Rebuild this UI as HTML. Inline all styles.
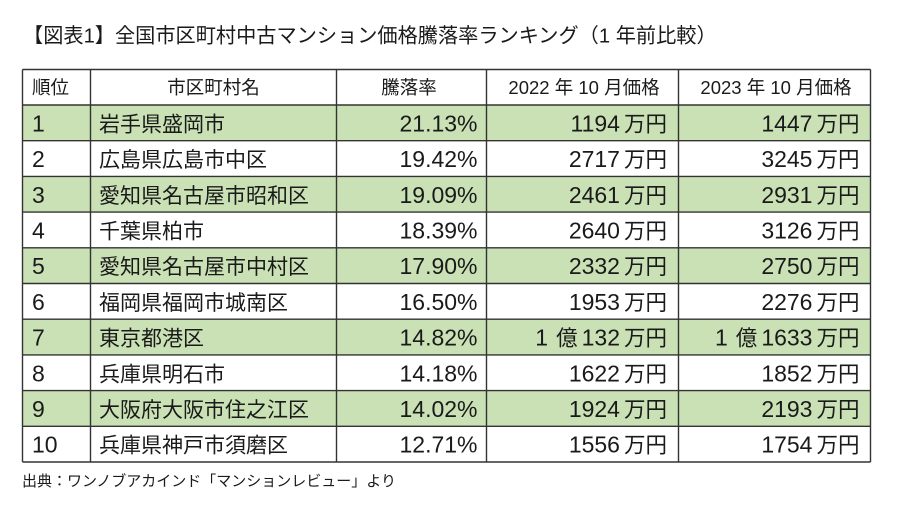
<!DOCTYPE html>
<html>
<head>
<meta charset="utf-8">
<style>
html,body{margin:0;padding:0;background:#fff;}
body{width:900px;height:506px;overflow:hidden;}
svg{display:block;}
text{font-family:"Liberation Sans","Noto Sans CJK JP",sans-serif;fill:#1a1a1a;}
.cj{font-family:"Noto Sans CJK JP","Liberation Sans",sans-serif;}
</style>
</head>
<body>
<svg width="900" height="506" viewBox="0 0 900 506" xmlns="http://www.w3.org/2000/svg">
  <!-- title -->
  <text x="23" y="42.5" font-size="20.2" fill="#111">【図表1】全国市区町村中古マンション価格騰落率ランキング（1 年前比較）</text>

  <!-- green rows -->
  <g fill="#c9e1b5">
    <rect x="22.5" y="105" width="848" height="35.7"/>
    <rect x="22.5" y="176.4" width="848" height="35.7"/>
    <rect x="22.5" y="247.8" width="848" height="35.7"/>
    <rect x="22.5" y="319.2" width="848" height="35.7"/>
    <rect x="22.5" y="390.6" width="848" height="35.7"/>
  </g>

  <!-- grid lines -->
  <g stroke="#333" stroke-width="1.4">
    <line x1="22.5" y1="69.5" x2="870.5" y2="69.5"/>
    <line x1="22.5" y1="105" x2="870.5" y2="105"/>
    <line x1="22.5" y1="140.7" x2="870.5" y2="140.7"/>
    <line x1="22.5" y1="176.4" x2="870.5" y2="176.4"/>
    <line x1="22.5" y1="212.1" x2="870.5" y2="212.1"/>
    <line x1="22.5" y1="247.8" x2="870.5" y2="247.8"/>
    <line x1="22.5" y1="283.5" x2="870.5" y2="283.5"/>
    <line x1="22.5" y1="319.2" x2="870.5" y2="319.2"/>
    <line x1="22.5" y1="354.9" x2="870.5" y2="354.9"/>
    <line x1="22.5" y1="390.6" x2="870.5" y2="390.6"/>
    <line x1="22.5" y1="426.3" x2="870.5" y2="426.3"/>
    <line x1="22.5" y1="462" x2="870.5" y2="462"/>
    <line x1="22.5" y1="69.5" x2="22.5" y2="462"/>
    <line x1="90.5" y1="69.5" x2="90.5" y2="462"/>
    <line x1="336.5" y1="69.5" x2="336.5" y2="462"/>
    <line x1="486.5" y1="69.5" x2="486.5" y2="462"/>
    <line x1="678.5" y1="69.5" x2="678.5" y2="462"/>
    <line x1="870.5" y1="69.5" x2="870.5" y2="462"/>
  </g>

  <!-- header -->
  <g font-size="18.5">
    <text x="32" y="94">順位</text>
    <text x="213.5" y="94" text-anchor="middle">市区町村名</text>
    <text x="409" y="94" text-anchor="middle">騰落率</text>
    <text x="584" y="94" text-anchor="middle">2022 年 10 月価格</text>
    <text x="776" y="94" text-anchor="middle">2023 年 10 月価格</text>
  </g>

  <!-- rank column -->
  <g font-size="23">
    <text x="32" y="131.35">1</text>
    <text x="32" y="167.05">2</text>
    <text x="32" y="202.75">3</text>
    <text x="32" y="238.45">4</text>
    <text x="32" y="274.15">5</text>
    <text x="32" y="309.85">6</text>
    <text x="32" y="345.55">7</text>
    <text x="32" y="381.25">8</text>
    <text x="32" y="416.95">9</text>
    <text x="32" y="452.65">10</text>
  </g>

  <!-- names -->
  <g font-size="21" class="cj">
    <text class="cj" x="99" y="131.35">岩手県盛岡市</text>
    <text class="cj" x="99" y="167.05">広島県広島市中区</text>
    <text class="cj" x="99" y="202.75">愛知県名古屋市昭和区</text>
    <text class="cj" x="99" y="238.45">千葉県柏市</text>
    <text class="cj" x="99" y="274.15">愛知県名古屋市中村区</text>
    <text class="cj" x="99" y="309.85">福岡県福岡市城南区</text>
    <text class="cj" x="99" y="345.55">東京都港区</text>
    <text class="cj" x="99" y="381.25">兵庫県明石市</text>
    <text class="cj" x="99" y="416.95">大阪府大阪市住之江区</text>
    <text class="cj" x="99" y="452.65">兵庫県神戸市須磨区</text>
  </g>

  <!-- rates -->
  <g font-size="23" text-anchor="end">
    <text x="477.5" y="131.35">21.13%</text>
    <text x="477.5" y="167.05">19.42%</text>
    <text x="477.5" y="202.75">19.09%</text>
    <text x="477.5" y="238.45">18.39%</text>
    <text x="477.5" y="274.15">17.90%</text>
    <text x="477.5" y="309.85">16.50%</text>
    <text x="477.5" y="345.55">14.82%</text>
    <text x="477.5" y="381.25">14.18%</text>
    <text x="477.5" y="416.95">14.02%</text>
    <text x="477.5" y="452.65">12.71%</text>
  </g>

  <!-- 2022 prices -->
  <g font-size="23" text-anchor="end">
    <text x="667" y="131.35">1194<tspan dx="4" font-size="21.5">万円</tspan></text>
    <text x="667" y="167.05">2717<tspan dx="4" font-size="21.5">万円</tspan></text>
    <text x="667" y="202.75">2461<tspan dx="4" font-size="21.5">万円</tspan></text>
    <text x="667" y="238.45">2640<tspan dx="4" font-size="21.5">万円</tspan></text>
    <text x="667" y="274.15">2332<tspan dx="4" font-size="21.5">万円</tspan></text>
    <text x="667" y="309.85">1953<tspan dx="4" font-size="21.5">万円</tspan></text>
    <text x="667" y="345.55">1<tspan dx="8" font-size="21.5">億</tspan><tspan dx="4">132</tspan><tspan dx="4" font-size="21.5">万円</tspan></text>
    <text x="667" y="381.25">1622<tspan dx="4" font-size="21.5">万円</tspan></text>
    <text x="667" y="416.95">1924<tspan dx="4" font-size="21.5">万円</tspan></text>
    <text x="667" y="452.65">1556<tspan dx="4" font-size="21.5">万円</tspan></text>
  </g>

  <!-- 2023 prices -->
  <g font-size="23" text-anchor="end">
    <text x="859.5" y="131.35">1447<tspan dx="4" font-size="21.5">万円</tspan></text>
    <text x="859.5" y="167.05">3245<tspan dx="4" font-size="21.5">万円</tspan></text>
    <text x="859.5" y="202.75">2931<tspan dx="4" font-size="21.5">万円</tspan></text>
    <text x="859.5" y="238.45">3126<tspan dx="4" font-size="21.5">万円</tspan></text>
    <text x="859.5" y="274.15">2750<tspan dx="4" font-size="21.5">万円</tspan></text>
    <text x="859.5" y="309.85">2276<tspan dx="4" font-size="21.5">万円</tspan></text>
    <text x="859.5" y="345.55">1<tspan dx="8" font-size="21.5">億</tspan><tspan dx="4">1633</tspan><tspan dx="4" font-size="21.5">万円</tspan></text>
    <text x="859.5" y="381.25">1852<tspan dx="4" font-size="21.5">万円</tspan></text>
    <text x="859.5" y="416.95">2193<tspan dx="4" font-size="21.5">万円</tspan></text>
    <text x="859.5" y="452.65">1754<tspan dx="4" font-size="21.5">万円</tspan></text>
  </g>

  <!-- footer -->
  <text x="22" y="486" font-size="15" fill="#222">出典：ワンノブアカインド「マンションレビュー」より</text>
</svg>
</body>
</html>
